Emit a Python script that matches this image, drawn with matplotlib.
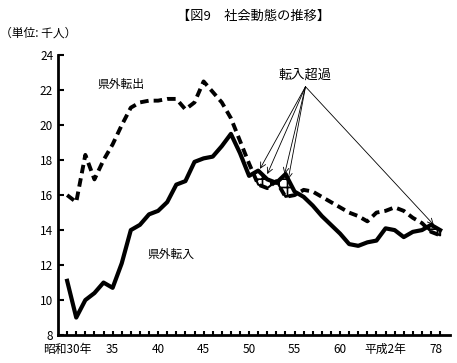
import matplotlib
matplotlib.use("Agg")
import matplotlib.pyplot as plt
import numpy as np

plt.rcParams['font.family'] = ['Noto Sans CJK JP', 'DejaVu Sans']
plt.rcParams['hatch.linewidth'] = 1.2

years = list(range(1955, 1997))
tennyu = [11.1, 9.0, 10.0, 10.4, 11.0, 10.7, 12.1, 14.0, 14.3, 14.9,
          15.1, 15.6, 16.6, 16.8, 17.9, 18.1, 18.2, 18.8, 19.5, 18.4,
          17.1, 17.4, 16.9, 16.7, 17.2, 16.2, 15.9, 15.4, 14.8, 14.3,
          13.8, 13.2, 13.1, 13.3, 13.4, 14.1, 14.0, 13.6, 13.9, 14.0,
          14.3, 14.0]
tenshutsu = [16.0, 15.6, 18.3, 16.9, 18.0, 18.9, 20.0, 21.0, 21.3, 21.4,
             21.4, 21.5, 21.5, 20.9, 21.3, 22.5, 21.9, 21.3, 20.4, 19.1,
             17.8, 16.6, 16.4, 16.8, 15.9, 16.0, 16.3, 16.2, 15.9, 15.6,
             15.3, 15.0, 14.8, 14.5, 15.0, 15.1, 15.3, 15.1, 14.7, 14.4,
             13.9, 13.7]
xtick_pos = [1955, 1960, 1965, 1970, 1975, 1980, 1985, 1990, 1995.5]
xtick_labels = ['昭和30年', '35', '40', '45', '50', '55', '60', '平成2年', '78']
yticks = [8, 10, 12, 14, 16, 18, 20, 22, 24]

fig = plt.figure(figsize=(4.57, 3.63), dpi=100)
ax = fig.add_axes([0.127, 0.077, 0.858, 0.771])

x = np.array(years, dtype=float)
a = np.array(tennyu)
b = np.array(tenshutsu)

ax.fill_between(x, b, a, where=a > b, interpolate=True, facecolor='white',
                edgecolor='black', hatch='++', linewidth=1.5, zorder=2)
ax.plot(x, b, color='black', lw=2.8, dashes=(2.2, 1.3), zorder=3)
ax.plot(x, a, color='black', lw=3.0, zorder=4, solid_joinstyle='round')

ax.set_xlim(1954, 1997.1)
ax.set_ylim(8, 24)
ax.set_yticks(yticks)
ax.set_yticklabels([str(v) for v in yticks], fontsize=8.5)
ax.set_xticks(years)
ax.set_xticklabels([])
ax.tick_params(axis='both', direction='in', length=4, width=1.5)
ax.tick_params(axis='x', length=3)
for s in ['top', 'right']:
    ax.spines[s].set_visible(False)
for s in ['left', 'bottom']:
    ax.spines[s].set_linewidth(2)

for p, lab in zip(xtick_pos, xtick_labels):
    ax.text(p, 7.55, lab, ha='center', va='top', fontsize=8.5,
            transform=ax.transData)

ax.text(1958.3, 22.3, '県外転出', fontsize=8.5, ha='left', va='center')
ax.text(1963.8, 12.6, '県外転入', fontsize=8.5, ha='left', va='center')

fig.text(0.554, 0.955, '【図9　社会動態の推移】', ha='center', va='center', fontsize=9.5)
fig.text(0.0, 0.91, '（単位: 千人）', ha='left', va='center', fontsize=8.5)

src = (1981.2, 22.2)
ax.text(1981.2, 22.85, '転入超過', ha='center', va='center', fontsize=9.5)
targets = [(1976.2, 17.5), (1977.0, 17.2), (1978.9, 17.2), (1979.3, 16.9), (1995.3, 14.3)]
for t in targets:
    ax.annotate('', xy=t, xytext=src,
                arrowprops=dict(arrowstyle='->', lw=0.6, color='black',
                                shrinkA=0, shrinkB=0, mutation_scale=10))

fig.savefig('out.png', dpi=100)
